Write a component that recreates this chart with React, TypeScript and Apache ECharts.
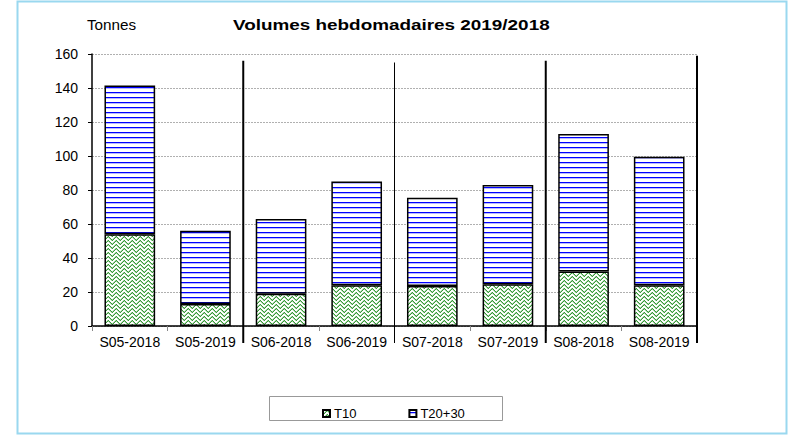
import React, { useEffect, useRef } from "react";
import * as echarts from "echarts";

const categories = ["S05-2018", "S05-2019", "S06-2018", "S06-2019", "S07-2018", "S07-2019", "S08-2018", "S08-2019"];
const t10 = [54, 13, 19, 24, 23.5, 24.5, 32, 24];
const t2030 = [87.5, 43, 44, 61, 52, 58.5, 81, 75.5];
const yTicks = { min: 0, max: 160, interval: 20 };
const separatorIndex = [1, 3, 5, 7];
const separatorTop = [156, 155, 156, 159];
const separatorBottom = -10;

function greenPattern(): HTMLCanvasElement {
  const c = document.createElement("canvas");
  c.width = 8;
  c.height = 8;
  const ctx = c.getContext("2d")!;
  ctx.fillStyle = "#ffffff";
  ctx.fillRect(0, 0, 8, 8);
  for (let y = 0; y < 8; y++) {
    for (let x = 0; x < 8; x++) {
      const half = Math.floor(x / 4) % 2;
      const a = half === 0 ? (x + y) % 4 === 0 : (x - y + 8) % 4 === 0;
      const b = half === 0 ? (x + y + 1) % 4 === 0 : (x - y + 9) % 4 === 0;
      if (a) {
        ctx.fillStyle = "#3a963a";
        ctx.fillRect(x, y, 1, 1);
      } else if (b) {
        ctx.fillStyle = "#a6d8a6";
        ctx.fillRect(x, y, 1, 1);
      }
    }
  }
  return c;
}

function bluePattern(): HTMLCanvasElement {
  const c = document.createElement("canvas");
  c.width = 4;
  c.height = 5;
  const ctx = c.getContext("2d")!;
  ctx.fillStyle = "#ffffff";
  ctx.fillRect(0, 0, 4, 5);
  ctx.fillStyle = "#0000ff";
  ctx.fillRect(0, 2, 4, 1);
  ctx.fillStyle = "#b8b8ff";
  ctx.fillRect(0, 3, 4, 1);
  return c;
}

export default function App() {
  const ref = useRef<HTMLDivElement>(null);
  useEffect(() => {
    if (!ref.current) return;
    const chart = echarts.init(ref.current, null, { renderer: "svg" });
    const font = "Arial, 'Liberation Sans', sans-serif";
    const gp = { image: greenPattern(), repeat: "repeat" as const };
    const bp = { image: bluePattern(), repeat: "repeat" as const };
    chart.setOption({
      animation: false,
      backgroundColor: "#ffffff",
      textStyle: { fontFamily: font },
      graphic: [
        {
          type: "rect",
          shape: { x: 17.5, y: 1.5, width: 769, height: 432 },
          style: { fill: "none", stroke: "#9ad8ef", lineWidth: 2 },
          silent: true,
        },
        {
          type: "rect",
          shape: { x: 269.5, y: 396.5, width: 233, height: 24 },
          style: { fill: "#fff", stroke: "#999", lineWidth: 1 },
          silent: true,
          z: -1,
        },
        {
          type: "text",
          x: 233,
          y: 18,
          scaleX: 1.26,
          style: { text: "Volumes hebdomadaires 2019/2018", font: `bold 15px ${font}`, fill: "#000" },
        },
        {
          type: "text",
          x: 87,
          y: 18,
          scaleX: 1.09,
          style: { text: "Tonnes", font: `14px ${font}`, fill: "#000" },
        },
      ],
      legend: {
        left: 317,
        top: 402,
        itemWidth: 7,
        itemHeight: 7,
        itemGap: 52,
        icon: "rect",
        textStyle: { fontSize: 13, color: "#000", fontFamily: font, padding: [0, 0, 0, -1] },
        data: ["T10", "T20+30"],
        selectedMode: false,
      },
      grid: { left: 92, right: 97, top: 54, bottom: 109, containLabel: false },
      xAxis: {
        type: "category",
        data: categories,
        boundaryGap: true,
        axisLine: { lineStyle: { color: "#000", width: 1.5 } },
        axisTick: { show: true, alignWithLabel: false, interval: 0, length: 5, lineStyle: { color: "#888" } },
        axisLabel: { color: "#000", fontSize: 14, margin: 9, interval: 0 },
      },
      yAxis: {
        type: "value",
        min: yTicks.min,
        max: yTicks.max,
        interval: yTicks.interval,
        axisLine: { show: true, lineStyle: { color: "#000", width: 1.5 } },
        axisTick: { show: true, length: 4, lineStyle: { color: "#000" } },
        axisLabel: { color: "#000", fontSize: 14, margin: 14 },
        splitLine: { show: true, lineStyle: { color: "#b0b0b0", type: [2, 1], width: 1 } },
      },
      series: [
        {
          name: "T10",
          type: "bar",
          stack: "total",
          barCategoryGap: "33%",
          data: t10,
          itemStyle: { color: gp, borderColor: "#000", borderWidth: 1.5 },
        },
        {
          name: "T20+30",
          type: "bar",
          stack: "total",
          barCategoryGap: "33%",
          data: t2030,
          itemStyle: { color: bp, borderColor: "#000", borderWidth: 1.5 },
        },
        {
          type: "custom",
          silent: true,
          clip: false,
          z: 5,
          data: separatorIndex.map((idx, i) => [idx, separatorTop[i], i]),
          renderItem: (params: any, api: any) => {
            const idx = api.value(0);
            const top = api.coord([idx, api.value(1)]);
            const bottom = api.coord([idx, separatorBottom]);
            const half = (api.size([1, 0])[0] as number) / 2;
            const x = top[0] + half;
            const w = api.value(2) === 1 ? 1 : 2;
            return {
              type: "line",
              shape: { x1: x, y1: top[1], x2: x, y2: bottom[1] },
              style: { stroke: "#000", lineWidth: w },
            };
          },
        },
      ],
    });
    return () => chart.dispose();
  }, []);
  return (
    <div
      ref={ref}
      style={{ position: "fixed", left: 0, top: 0, width: 794, height: 435 }}
    />
  );
}
